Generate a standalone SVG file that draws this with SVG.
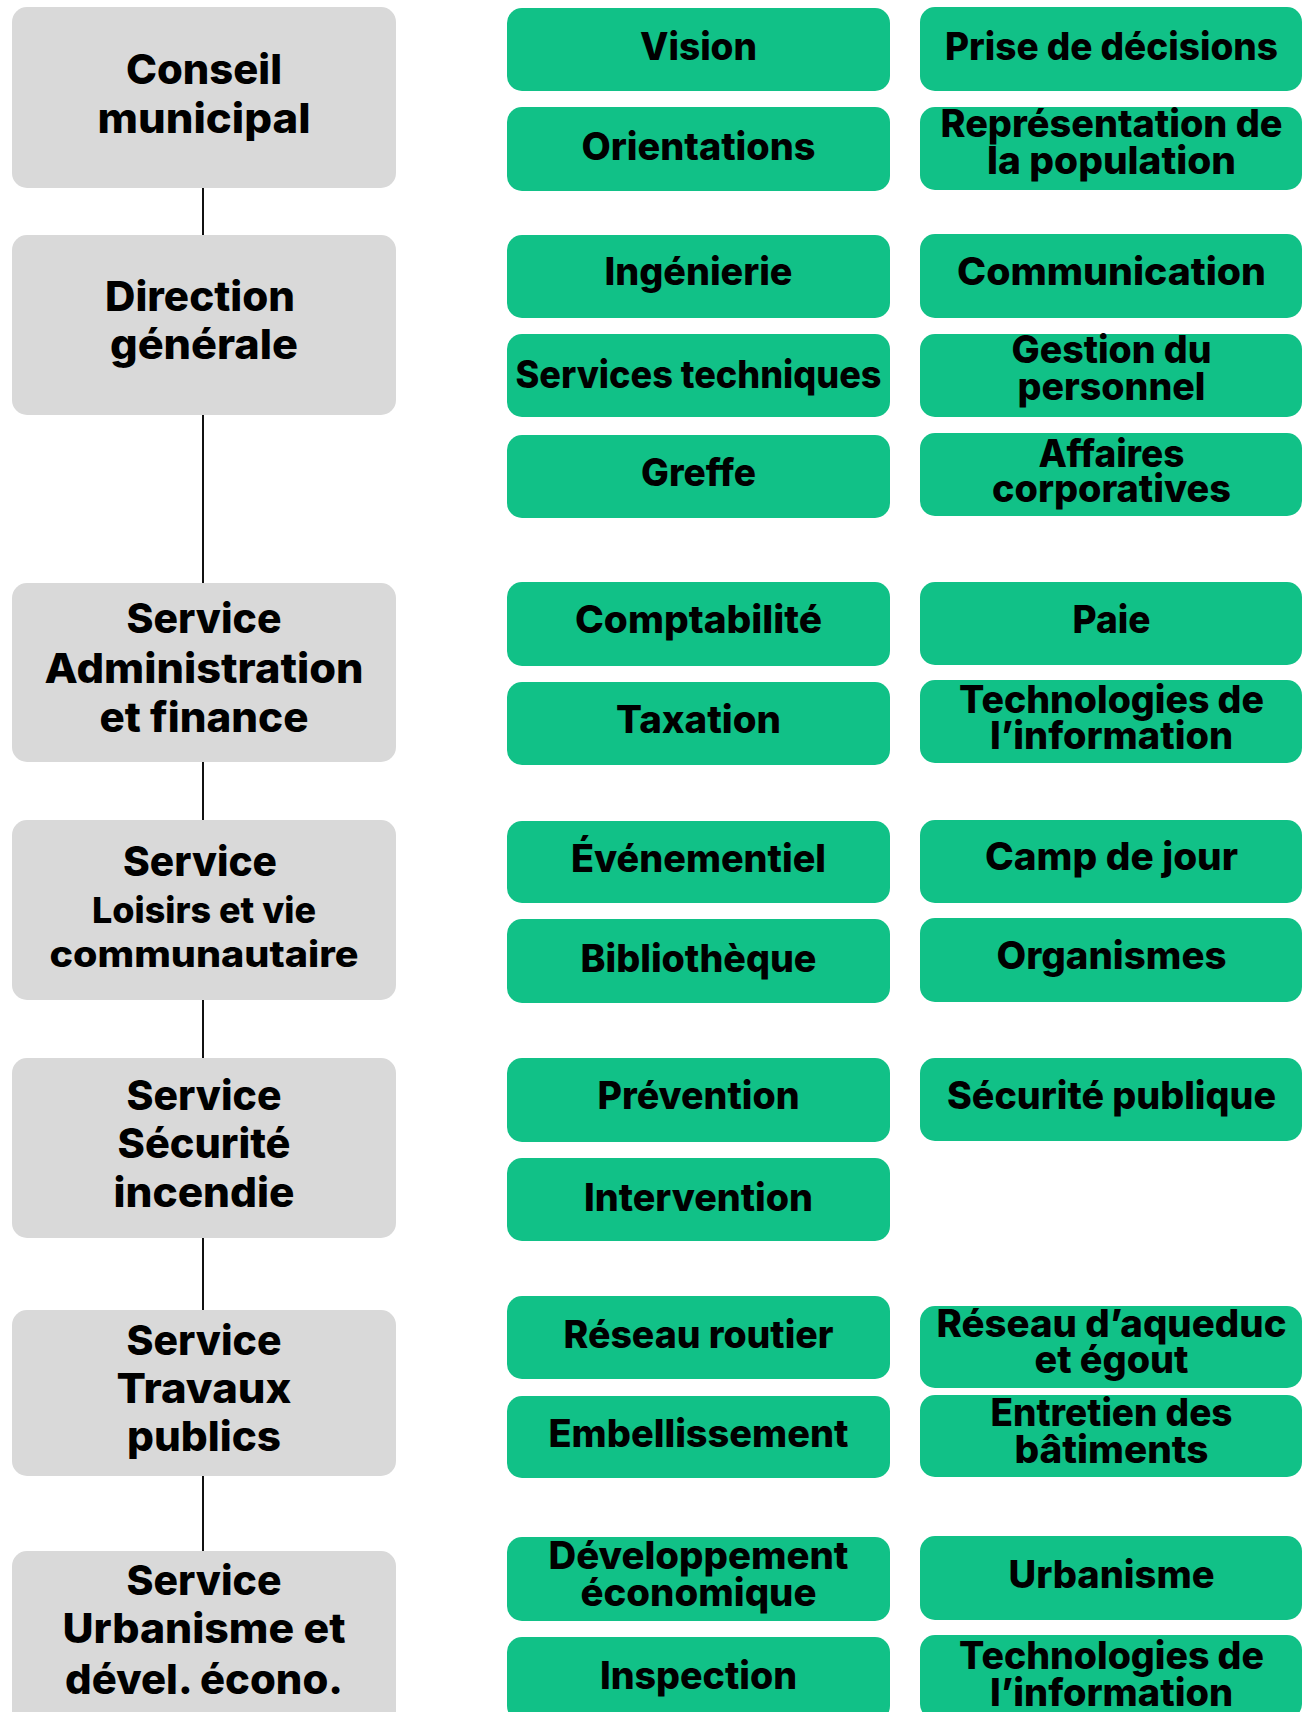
<svg xmlns="http://www.w3.org/2000/svg" width="1302" height="1712" viewBox="0 0 1302 1712">
<style>
.g{fill:#d9d9d9}
.b{fill:#11c187}
.t{font-family:Inter,"Open Sans","Liberation Sans",sans-serif;font-weight:800;fill:#000;text-anchor:middle}
.h{font-size:41px}
.s{font-size:36px}
.k{font-size:38px}
.c{stroke:#111;stroke-width:2;fill:none}
</style>
<rect width="1302" height="1712" fill="#fff"/>
<g id="connectors">
<line class="c" x1="203" y1="188" x2="203" y2="235"/>
<line class="c" x1="203" y1="415" x2="203" y2="583"/>
<line class="c" x1="203" y1="762" x2="203" y2="820"/>
<line class="c" x1="203" y1="1000" x2="203" y2="1058"/>
<line class="c" x1="203" y1="1238" x2="203" y2="1310"/>
<line class="c" x1="203" y1="1476" x2="203" y2="1551"/>
</g>
<g id="conseil"><rect class="g" x="12" y="7" width="384" height="181" rx="15"/>
<text class="t h" x="204" y="84" textLength="156" lengthAdjust="spacingAndGlyphs">Conseil</text>
<text class="t h" x="204" y="133" textLength="213" lengthAdjust="spacingAndGlyphs">municipal</text></g>
<g id="direction"><rect class="g" x="12" y="235" width="384" height="180" rx="15"/>
<text class="t h" x="200" y="311" textLength="190" lengthAdjust="spacingAndGlyphs">Direction</text>
<text class="t h" x="204" y="359" textLength="188" lengthAdjust="spacingAndGlyphs">générale</text></g>
<g id="admin"><rect class="g" x="12" y="583" width="384" height="179" rx="15"/>
<text class="t h" x="204" y="633" textLength="155" lengthAdjust="spacingAndGlyphs">Service</text>
<text class="t h" x="204" y="683" textLength="319" lengthAdjust="spacingAndGlyphs">Administration</text>
<text class="t h" x="204" y="732" textLength="209" lengthAdjust="spacingAndGlyphs">et finance</text></g>
<g id="loisirs"><rect class="g" x="12" y="820" width="384" height="180" rx="15"/>
<text class="t h" x="200" y="876" textLength="154" lengthAdjust="spacingAndGlyphs">Service</text>
<text class="t s" x="204" y="923" textLength="224" lengthAdjust="spacingAndGlyphs">Loisirs et vie</text>
<text class="t s" x="204" y="967" textLength="309" lengthAdjust="spacingAndGlyphs">communautaire</text></g>
<g id="securite"><rect class="g" x="12" y="1058" width="384" height="180" rx="15"/>
<text class="t h" x="204" y="1110" textLength="155" lengthAdjust="spacingAndGlyphs">Service</text>
<text class="t h" x="204" y="1158" textLength="173" lengthAdjust="spacingAndGlyphs">Sécurité</text>
<text class="t h" x="204" y="1207" textLength="181" lengthAdjust="spacingAndGlyphs">incendie</text></g>
<g id="travaux"><rect class="g" x="12" y="1310" width="384" height="166" rx="15"/>
<text class="t h" x="204" y="1355" textLength="155" lengthAdjust="spacingAndGlyphs">Service</text>
<text class="t h" x="204" y="1403" textLength="175" lengthAdjust="spacingAndGlyphs">Travaux</text>
<text class="t h" x="204" y="1451" textLength="154" lengthAdjust="spacingAndGlyphs">publics</text></g>
<g id="urbanisme"><rect class="g" x="12" y="1551" width="384" height="180" rx="15"/>
<text class="t h" x="204" y="1595" textLength="155" lengthAdjust="spacingAndGlyphs">Service</text>
<text class="t h" x="204" y="1643" textLength="283" lengthAdjust="spacingAndGlyphs">Urbanisme et</text>
<text class="t h" x="204" y="1694" textLength="278" lengthAdjust="spacingAndGlyphs">dével. écono.</text></g>

<g id="vision"><rect class="b" x="507" y="8" width="383" height="83" rx="15"/>
<text class="t k" x="698.5" y="60" textLength="117" lengthAdjust="spacingAndGlyphs">Vision</text></g>
<g id="prise"><rect class="b" x="920" y="7" width="382" height="84" rx="15"/>
<text class="t k" x="1111.5" y="60" textLength="333" lengthAdjust="spacingAndGlyphs">Prise de décisions</text></g>
<g id="orientations"><rect class="b" x="507" y="107" width="383" height="84" rx="15"/>
<text class="t k" x="698.5" y="160" textLength="234" lengthAdjust="spacingAndGlyphs">Orientations</text></g>
<g id="representation"><rect class="b" x="920" y="107" width="382" height="83" rx="15"/>
<text class="t k" x="1111.5" y="137" textLength="342" lengthAdjust="spacingAndGlyphs">Représentation de</text>
<text class="t k" x="1111.5" y="174" textLength="249" lengthAdjust="spacingAndGlyphs">la population</text></g>

<g id="ingenierie"><rect class="b" x="507" y="235" width="383" height="83" rx="15"/>
<text class="t k" x="698.5" y="285" textLength="188" lengthAdjust="spacingAndGlyphs">Ingénierie</text></g>
<g id="communication"><rect class="b" x="920" y="234" width="382" height="84" rx="15"/>
<text class="t k" x="1111.5" y="285" textLength="309" lengthAdjust="spacingAndGlyphs">Communication</text></g>
<g id="services-techniques"><rect class="b" x="507" y="334" width="383" height="83" rx="15"/>
<text class="t k" x="698.5" y="388" textLength="366" lengthAdjust="spacingAndGlyphs">Services techniques</text></g>
<g id="gestion"><rect class="b" x="920" y="334" width="382" height="83" rx="15"/>
<text class="t k" x="1111.5" y="363" textLength="200" lengthAdjust="spacingAndGlyphs">Gestion du</text>
<text class="t k" x="1111.5" y="400" textLength="188" lengthAdjust="spacingAndGlyphs">personnel</text></g>
<g id="greffe"><rect class="b" x="507" y="435" width="383" height="83" rx="15"/>
<text class="t k" x="698.5" y="486" textLength="115" lengthAdjust="spacingAndGlyphs">Greffe</text></g>
<g id="affaires"><rect class="b" x="920" y="433" width="382" height="83" rx="15"/>
<text class="t k" x="1111.5" y="467" textLength="146" lengthAdjust="spacingAndGlyphs">Affaires</text>
<text class="t k" x="1111.5" y="502" textLength="239" lengthAdjust="spacingAndGlyphs">corporatives</text></g>

<g id="comptabilite"><rect class="b" x="507" y="582" width="383" height="84" rx="15"/>
<text class="t k" x="698.5" y="633" textLength="247" lengthAdjust="spacingAndGlyphs">Comptabilité</text></g>
<g id="paie"><rect class="b" x="920" y="582" width="382" height="83" rx="15"/>
<text class="t k" x="1111.5" y="633" textLength="78" lengthAdjust="spacingAndGlyphs">Paie</text></g>
<g id="taxation"><rect class="b" x="507" y="682" width="383" height="83" rx="15"/>
<text class="t k" x="698.5" y="733" textLength="165" lengthAdjust="spacingAndGlyphs">Taxation</text></g>
<g id="technologies-1"><rect class="b" x="920" y="680" width="382" height="83" rx="15"/>
<text class="t k" x="1111.5" y="713" textLength="305" lengthAdjust="spacingAndGlyphs">Technologies de</text>
<text class="t k" x="1111.5" y="749" textLength="243" lengthAdjust="spacingAndGlyphs">l’information</text></g>

<g id="evenementiel"><rect class="b" x="507" y="821" width="383" height="82" rx="15"/>
<text class="t k" x="698.5" y="872" textLength="255" lengthAdjust="spacingAndGlyphs">Événementiel</text></g>
<g id="camp"><rect class="b" x="920" y="820" width="382" height="83" rx="15"/>
<text class="t k" x="1111.5" y="870" textLength="253" lengthAdjust="spacingAndGlyphs">Camp de jour</text></g>
<g id="bibliotheque"><rect class="b" x="507" y="919" width="383" height="84" rx="15"/>
<text class="t k" x="698.5" y="972" textLength="236" lengthAdjust="spacingAndGlyphs">Bibliothèque</text></g>
<g id="organismes"><rect class="b" x="920" y="918" width="382" height="84" rx="15"/>
<text class="t k" x="1111.5" y="969" textLength="230" lengthAdjust="spacingAndGlyphs">Organismes</text></g>

<g id="prevention"><rect class="b" x="507" y="1058" width="383" height="84" rx="15"/>
<text class="t k" x="698.5" y="1109" textLength="202" lengthAdjust="spacingAndGlyphs">Prévention</text></g>
<g id="securite-publique"><rect class="b" x="920" y="1058" width="382" height="83" rx="15"/>
<text class="t k" x="1111.5" y="1109" textLength="329" lengthAdjust="spacingAndGlyphs">Sécurité publique</text></g>
<g id="intervention"><rect class="b" x="507" y="1158" width="383" height="83" rx="15"/>
<text class="t k" x="698.5" y="1211" textLength="229" lengthAdjust="spacingAndGlyphs">Intervention</text></g>

<g id="reseau-routier"><rect class="b" x="507" y="1296" width="383" height="83" rx="15"/>
<text class="t k" x="698.5" y="1348" textLength="270" lengthAdjust="spacingAndGlyphs">Réseau routier</text></g>
<g id="reseau-aqueduc"><rect class="b" x="920" y="1306" width="382" height="82" rx="15"/>
<text class="t k" x="1111.5" y="1337" textLength="350" lengthAdjust="spacingAndGlyphs">Réseau d’aqueduc</text>
<text class="t k" x="1111.5" y="1373" textLength="154" lengthAdjust="spacingAndGlyphs">et égout</text></g>
<g id="embellissement"><rect class="b" x="507" y="1396" width="383" height="82" rx="15"/>
<text class="t k" x="698.5" y="1447" textLength="300" lengthAdjust="spacingAndGlyphs">Embellissement</text></g>
<g id="entretien"><rect class="b" x="920" y="1395" width="382" height="82" rx="15"/>
<text class="t k" x="1111.5" y="1426" textLength="242" lengthAdjust="spacingAndGlyphs">Entretien des</text>
<text class="t k" x="1111.5" y="1463" textLength="194" lengthAdjust="spacingAndGlyphs">bâtiments</text></g>

<g id="developpement"><rect class="b" x="507" y="1537" width="383" height="84" rx="15"/>
<text class="t k" x="698.5" y="1569" textLength="300" lengthAdjust="spacingAndGlyphs">Développement</text>
<text class="t k" x="698.5" y="1606" textLength="236" lengthAdjust="spacingAndGlyphs">économique</text></g>
<g id="urbanisme-task"><rect class="b" x="920" y="1536" width="382" height="84" rx="15"/>
<text class="t k" x="1111.5" y="1588" textLength="206" lengthAdjust="spacingAndGlyphs">Urbanisme</text></g>
<g id="inspection"><rect class="b" x="507" y="1637" width="383" height="84" rx="15"/>
<text class="t k" x="698.5" y="1689" textLength="197" lengthAdjust="spacingAndGlyphs">Inspection</text></g>
<g id="technologies-2"><rect class="b" x="920" y="1635" width="382" height="84" rx="15"/>
<text class="t k" x="1111.5" y="1669" textLength="305" lengthAdjust="spacingAndGlyphs">Technologies de</text>
<text class="t k" x="1111.5" y="1706" textLength="243" lengthAdjust="spacingAndGlyphs">l’information</text></g>
</svg>
